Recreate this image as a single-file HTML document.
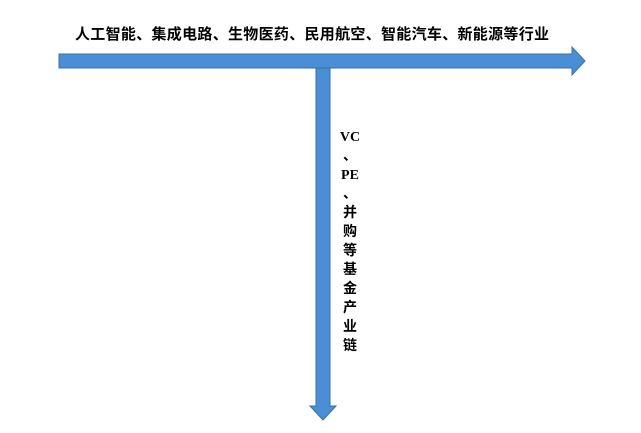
<!DOCTYPE html>
<html><head><meta charset="utf-8"><style>
body{margin:0;width:641px;height:433px;background:#fff;overflow:hidden;position:relative;font-family:"Liberation Sans","Noto Sans CJK SC",sans-serif;font-weight:bold;}
.t{position:absolute;left:75px;top:23px;white-space:nowrap;font-size:15px;letter-spacing:0.3px;color:#000;}
.v{position:absolute;left:338px;top:128px;width:24px;text-align:center;font-size:14px;line-height:19px;font-family:"Liberation Serif","Noto Sans CJK SC",serif;}
</style></head><body>
<svg width="641" height="433" style="position:absolute;left:0;top:0">
<polygon points="59,54 572,54 572,47 585,61 572,75 572,68 59,68" fill="#4a8fd6" stroke="#3a6fa8" stroke-width="1"/>
<polygon points="316,68 330,68 330,406 336,406 323,420 310,406 316,406" fill="#4a8fd6" stroke="#3a6fa8" stroke-width="1"/>
</svg>
<div class="t">人工智能、集成电路、生物医药、民用航空、智能汽车、新能源等行业</div>
<div class="v">VC<br>、<br>PE<br>、<br>并<br>购<br>等<br>基<br>金<br>产<br>业<br>链</div>
</body></html>
